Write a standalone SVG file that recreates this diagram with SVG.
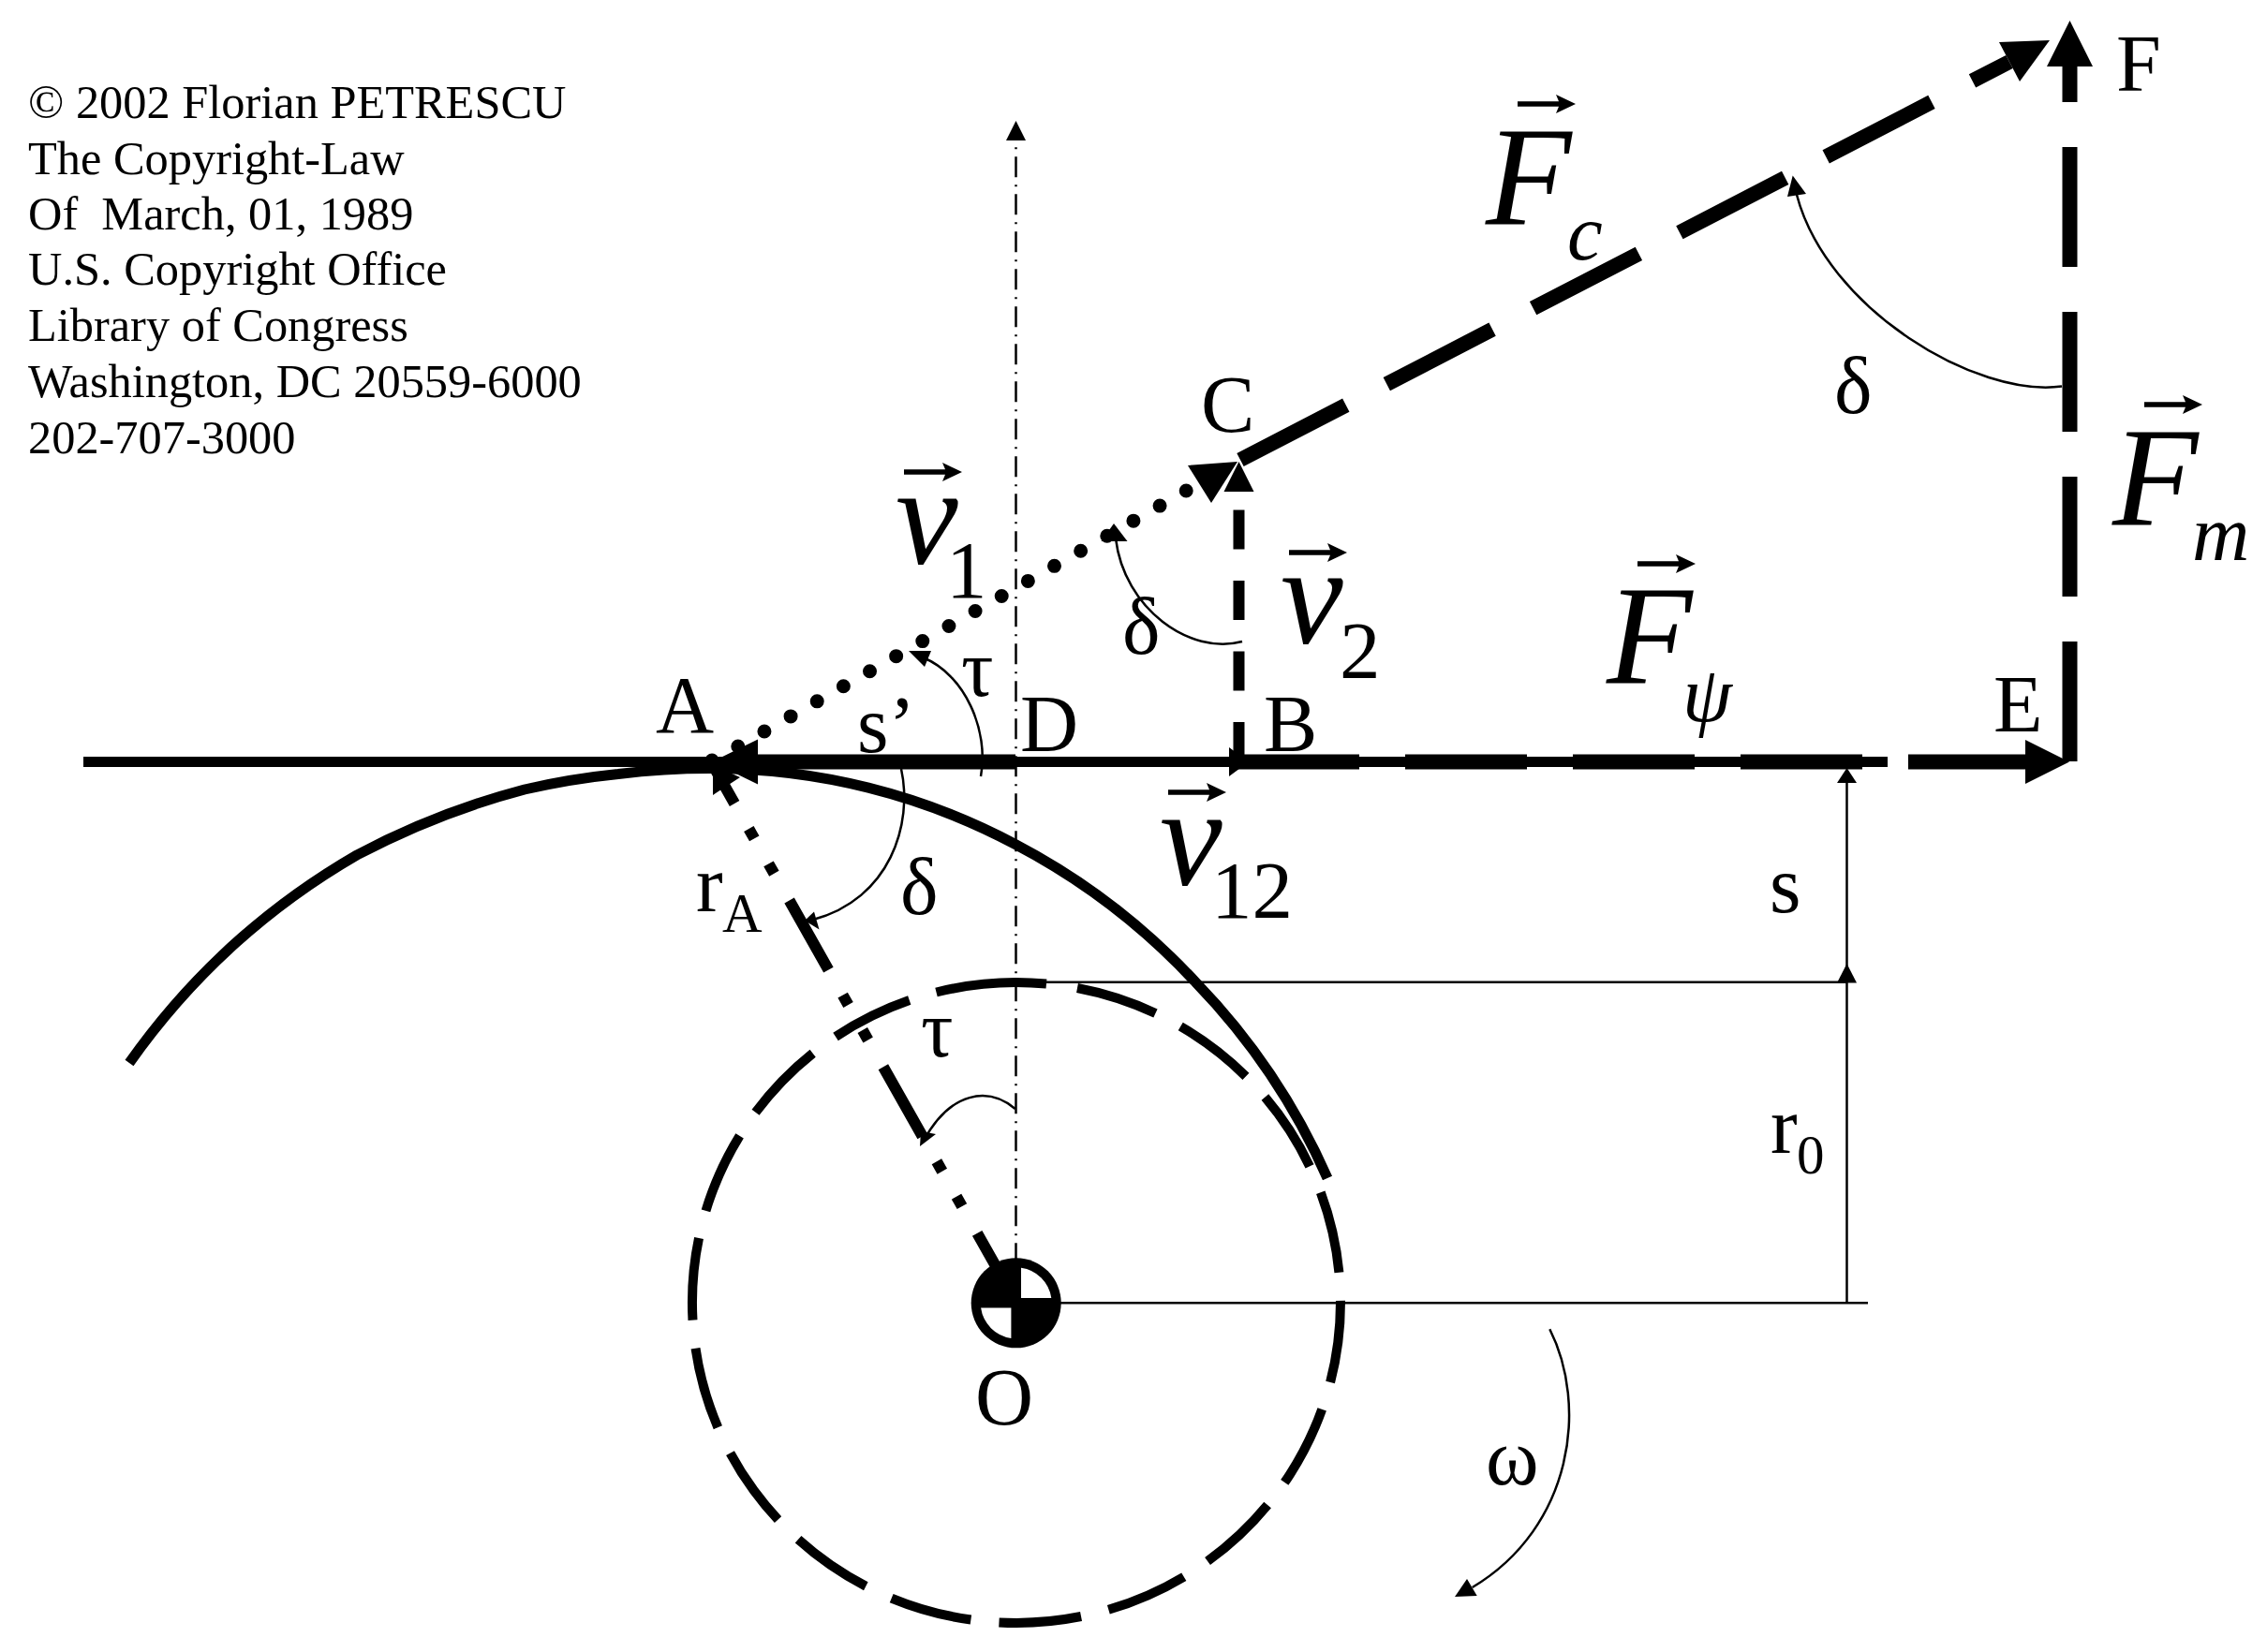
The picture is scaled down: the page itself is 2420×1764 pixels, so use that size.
<svg xmlns="http://www.w3.org/2000/svg" xmlns:xlink="http://www.w3.org/1999/xlink" width="2420" height="1764" viewBox="0 0 2420 1764">
<style>
text{font-family:"Liberation Serif","Times New Roman",serif;fill:#000}
.n{font-size:50.4px}
.l{font-size:86px}
.b{font-size:150px;font-style:italic}
.si{font-size:85px;font-style:italic}
.s{font-size:87px}
.ss{font-size:59px}
.thin{fill:none;stroke:#000;stroke-width:2.5}
.thick{fill:none;stroke:#000;stroke-width:16}
.mid{fill:none;stroke:#000;stroke-width:11}
.head{fill:#000;stroke:none}
</style>
<defs>
<path id="vec" d="M0-2.7H44L41-10 62 0 41 10 44 2.7H0Z"/>
</defs>
<rect width="2420" height="1764" fill="#fff"/>
<g id="copyright">
<text class="n" x="30" y="126">© 2002 Florian PETRESCU</text>
<text class="n" x="30" y="186">The Copyright-Law</text>
<text class="n" x="30" y="245" xml:space="preserve">Of  March, 01, 1989</text>
<text class="n" x="30" y="304">U.S. Copyright Office</text>
<text class="n" x="30" y="364">Library of Congress</text>
<text class="n" x="30" y="424">Washington, DC 20559-6000</text>
<text class="n" x="30" y="484">202-707-3000</text>
</g>
<g id="connectors">
<path class="thin" d="M1084.5 157.3V1345" stroke-dasharray="2 8 22 8"/>
<polygon class="head" points="1084.5,129 1074,150 1095,150"/>
<path class="thin" d="M1117 1048.7H1971"/>
<path class="thin" d="M1125 1391.3H1994"/>
<path class="thin" d="M1971.5 1391V835"/>
<polygon class="head" points="1971.5,1029 1961,1049.5 1982,1049.5"/>
<polygon class="head" points="1971.5,820 1961,836 1982,836"/>
<path class="mid" d="M89 813.5H2015"/>
<path class="thick" d="M808 813.5H1084"/>
<polygon class="head" points="760,813.5 809,789.5 809,837.5"/>
<path class="thick" d="M1321 813.5H1451M1500 813.5H1630M1679 813.5H1809M1858 813.5H1988M2037 813.5H2165"/>
<polygon class="head" points="2209,813.5 2162,790 2162,837"/>
<polygon class="head" points="1333,813.5 1312,798 1312,829"/>
<path class="mid" d="M138 1135A770 770 0 0 1 381 913A840 840 0 0 1 560 843A800 800 0 0 1 660 826.5A800 800 0 0 1 760 820.5A690 690 0 0 1 1084 901.6A715 715 0 0 1 1276.5 1049A715 715 0 0 1 1417 1258"/>
<path d="M787.8 797L1266.3 524" fill="none" stroke="#000" stroke-width="15" stroke-linecap="round" stroke-dasharray="0 32.4"/>
<circle cx="760" cy="812" r="7.5"/>
<polygon class="head" points="1321,493 1268,497 1293,537"/>
<path d="M1322.5 813V525" fill="none" stroke="#000" stroke-width="12" stroke-dasharray="42 33.5"/>
<polygon class="head" points="1322.5,493 1306.5,525 1338.5,525"/>
<path class="thick" d="M1324 491L2145 66" stroke-dasharray="127 49"/>
<polygon class="head" points="2188,43 2134,45 2156,87"/>
<path class="thick" d="M2209.5 813V71" stroke-dasharray="128 48"/>
<polygon class="head" points="2209.5,22 2185,71 2234,71"/>
<path d="M761 817L1085 1391" fill="none" stroke="#000" stroke-width="12" stroke-dasharray="85 31 12 31 12 33" stroke-dashoffset="38"/>
<polygon class="head" points="761,817 761,849 790,830"/>
<path class="thin" d="M1047 829C1056 780 1030 720 985 702"/>
<polygon class="head" points="970,695 994,695 987,712"/>
<path class="thin" d="M1326 685C1270 700 1200 650 1191 575"/>
<polygon class="head" points="1189,559 1175.5,578 1203.5,578"/>
<path class="thin" d="M962 821C975 880 950 960 868 982"/>
<polygon class="head" points="859,983 869,973.5 874.5,992.5"/>
<path class="thin" d="M2201 412.5C2110 425 1950 330 1918 208"/>
<polygon class="head" points="1913.7,187.5 1908,210 1928,207"/>
<path class="thin" d="M1083.7 1184C1055 1160 1015 1165 986 1218"/>
<polygon class="head" points="982,1224 983,1208 999,1211"/>
<path class="thin" d="M1654.3 1419.3C1695 1500 1680 1630 1571.7 1695"/>
<polygon class="head" points="1553,1705 1566,1686 1576.7,1704"/>
</g>
<g id="base-circle">
<path d="M1150 1055A346 342 0 1 1 999.5 1059.5" fill="none" stroke="#000" stroke-width="10" stroke-dasharray="88 30.2"/>
<path d="M999.5 1059.5A346 342 0 0 1 1117 1050.5" fill="none" stroke="#000" stroke-width="10"/>
</g>
<g id="node-O">
<circle cx="1084.7" cy="1391.3" r="48" fill="#000"/>
<path d="M1090 1386V1353.7A38 38 0 0 1 1122.3 1386ZM1079.4 1396.6V1428.9A38 38 0 0 1 1047.1 1396.6Z" fill="#fff"/>
<text class="l" x="1041" y="1521">O</text>
</g>
<g id="label-A"><text class="l" x="700" y="782">A</text></g>
<g id="label-s-prime"><text class="l" x="915" y="803">s’</text></g>
<g id="label-D"><text class="l" x="1089" y="802">D</text></g>
<g id="label-B"><text class="l" x="1349" y="802">B</text></g>
<g id="label-C"><text class="l" x="1282" y="461">C</text></g>
<g id="label-E"><text class="l" x="2128" y="781">E</text></g>
<g id="label-F"><text class="l" x="2259" y="96.5">F</text></g>
<g id="label-s"><text class="l" x="1889" y="974">s</text></g>
<g id="label-rA"><text class="l" x="743" y="973">r</text><text class="ss" x="771" y="995">A</text></g>
<g id="label-r0"><text class="l" x="1890" y="1231">r</text><text class="ss" x="1918" y="1253">0</text></g>
<g id="angles">
<text class="l" x="1026" y="743">τ</text>
<text class="l" x="983" y="1128">τ</text>
<text class="l" x="1198" y="698">δ</text>
<text class="l" x="961" y="976">δ</text>
<text class="l" x="1958" y="441">δ</text>
<text class="l" x="1586" y="1585">ω</text>
</g>
<g id="vector-Fc"><use xlink:href="#vec" href="#vec" x="1620" y="111"/><text class="b" x="1586" y="239">F</text><text class="si" x="1673" y="277">c</text></g>
<g id="vector-Fm"><use xlink:href="#vec" href="#vec" x="2289" y="432"/><text class="b" x="2255" y="560">F</text><text class="si" x="2340" y="598">m</text></g>
<g id="vector-Fpsi"><use xlink:href="#vec" href="#vec" x="1748" y="602"/><text class="b" x="1715" y="729">F</text><text class="si" x="1796" y="770">ψ</text></g>
<g id="vector-v1"><use xlink:href="#vec" href="#vec" x="965" y="504"/><text class="b" x="956" y="602">v</text><text class="s" x="1010" y="637.5">1</text></g>
<g id="vector-v2"><use xlink:href="#vec" href="#vec" x="1376" y="590"/><text class="b" x="1367" y="687">v</text><text class="s" x="1430" y="724">2</text></g>
<g id="vector-v12"><use xlink:href="#vec" href="#vec" x="1247" y="846"/><text class="b" x="1238" y="945">v</text><text class="s" x="1293" y="980">12</text></g>
</svg>
